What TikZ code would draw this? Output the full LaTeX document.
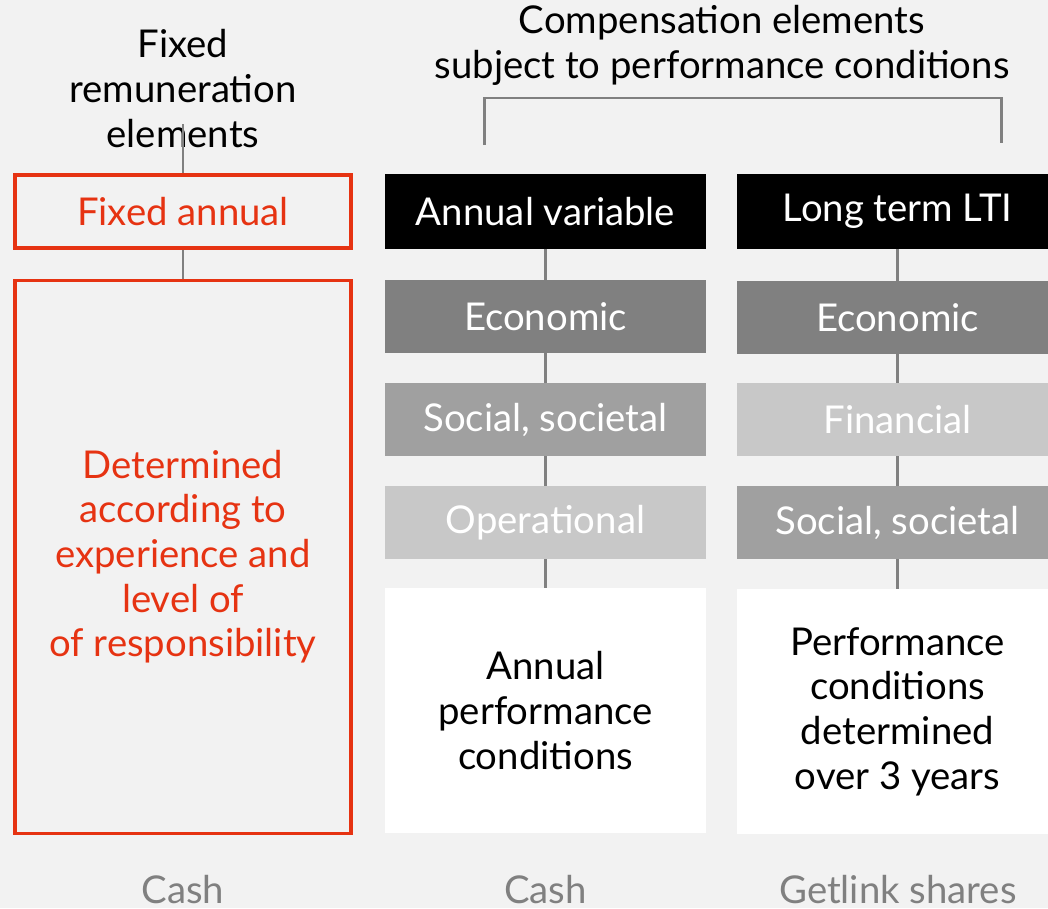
\documentclass[tikz,border=0pt]{standalone}
\usepackage{fontspec}
\setmainfont{Lato}
\usetikzlibrary{positioning}
\definecolor{getred}{HTML}{E63312}
\definecolor{bggrey}{HTML}{F2F2F2}
\definecolor{darkbox}{HTML}{808080}
\definecolor{midbox}{HTML}{A0A0A0}
\definecolor{lightbox}{HTML}{C8C8C8}
\tikzset{
    box/.style={minimum width=3.21cm, minimum height=0.73cm, inner sep=0pt, align=center,
                font=\fontsize{10.9}{12.7}\selectfont},
    redbox/.style={box, draw=getred, line width=0.9pt, text=getred, minimum width=3.36cm},
    greybox/.style={box, fill=#1, text=white, outer sep=0pt},
    whitebox/.style={box, fill=white, text=black, outer sep=0pt, minimum height=2.45cm},
    link/.style={draw=darkbox, line width=0.85pt},
    heading/.style={align=center, font=\fontsize{10.9}{12.8}\selectfont},
    footer/.style={text=darkbox, font=\fontsize{10.9}{12.7}\selectfont}
}
\begin{document}
\begin{tikzpicture}
    \fill [bggrey] (0,0) rectangle (10.48,9.08);
    \clip (0,0) rectangle (10.48,9.08);

    % fixed part
    \node (fixhead) [heading] at (1.83,8.19) {Fixed\\remuneration\\elements};
    \node (fixann) [redbox, minimum height=0.73cm] at (1.83,6.965) {Fixed annual};
    \node (fixdet) [redbox, minimum height=5.53cm, below=0.29cm of fixann]
        {Determined\\according to\\experience and\\level of\\of responsibility};
    \coordinate (fixtop) at (1.83,7.84);
    \draw [link] (fixtop) -- (fixann);
    \draw [link] (fixann) -- (fixdet);

    % performance part
    \node (perfhead) [heading] at (7.22,8.63) {Compensation elements\\subject to performance conditions};
    \coordinate (brleft) at (4.84,7.63);
    \coordinate (brright) at (10.01,7.65);
    \draw [link] (brleft) -- ++(0,0.47) -| (brright);

    % annual variable column
    \node (avtop) [greybox=black, minimum height=0.75cm] at (5.455,6.965) {Annual variable};
    \node (avecon) [greybox=darkbox, below=0.31cm of avtop] {Economic};
    \node (avsoc) [greybox=midbox, below=0.3cm of avecon] {Social, societal};
    \node (avoper) [greybox=lightbox, below=0.3cm of avsoc] {Operational};
    \node (avcond) [whitebox, below=0.29cm of avoper] {Annual\\performance\\conditions};

    % long term column
    \node (ltitop) [greybox=black, minimum height=0.75cm] at (8.975,6.965) {Long term LTI};
    \node (ltiecon) [greybox=darkbox, below=0.32cm of ltitop] {Economic};
    \node (ltifin) [greybox=lightbox, below=0.29cm of ltiecon] {Financial};
    \node (ltisoc) [greybox=midbox, below=0.3cm of ltifin] {Social, societal};
    \node (lticond) [whitebox, below=0.3cm of ltisoc] {Performance\\conditions\\determined\\over 3 years};

    \foreach \a/\b in {avtop/avecon, avecon/avsoc, avsoc/avoper, avoper/avcond,
                       ltitop/ltiecon, ltiecon/ltifin, ltifin/ltisoc, ltisoc/lticond}
    {
        \draw [link] (\a) -- (\b);
    }

    % payment form
    \node (paycash) [footer] at (1.83,0.18) {Cash};
    \node (payvar) [footer] at (5.455,0.18) {Cash};
    \node (payshares) [footer] at (8.98,0.18) {Getlink shares};
\end{tikzpicture}
\end{document}
